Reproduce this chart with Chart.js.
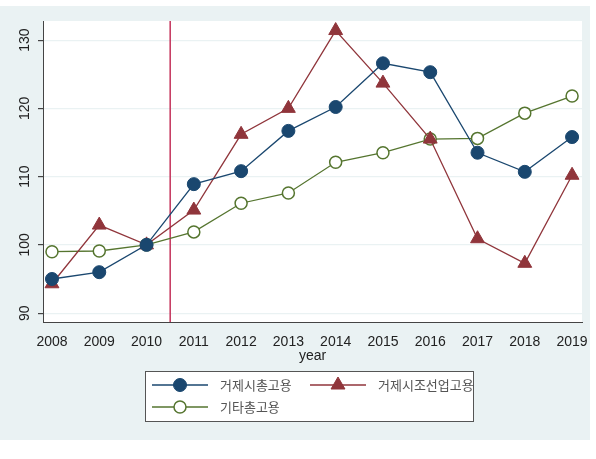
<!DOCTYPE html>
<html>
<head>
<meta charset="utf-8">
<script src="https://cdn.jsdelivr.net/npm/chart.js@4"></script>
<style>
  html, body { margin: 0; padding: 0; background: #fff; }
  #wrap { position: relative; width: 596px; height: 459px; }
  #panel { position: absolute; left: 0; top: 6px; width: 590px; height: 434px; background: #eaf2f3; }
  #c { position: absolute; left: 0; top: 0; }
</style>
</head>
<body>
<div id="wrap">
  <div id="panel"></div>
  <canvas id="c" width="596" height="459"></canvas>
</div>
<script>
// years and indexed employment (2010 = 100)
const years = [2008, 2009, 2010, 2011, 2012, 2013, 2014, 2015, 2016, 2017, 2018, 2019];
const geojeTotal    = [95.0, 96.0, 100, 108.9, 110.8, 116.7, 120.2, 126.6, 125.3, 113.5, 110.7, 115.8];
const geojeShipbld  = [94.3, 102.9, 100, 105.1, 116.2, 120.0, 131.4, 123.7, 115.5, 100.9, 97.3, 110.2];
const otherTotal    = [99.0, 99.1, 100, 101.9, 106.1, 107.6, 112.1, 113.5, 115.5, 115.6, 119.3, 121.8];
const yTicks = [90, 100, 110, 120, 130];
const markerYear = 2010.5;

const COL = {
    navy:   '#1a476f',
    maroon: '#90353b',
    olive:  '#55752f',
    vline:  '#c4325a',
    grid:   '#eaf2f3',
    axis:   '#444444',
    text:   '#222222'
};

const FONT = '"Liberation Sans", Arial, sans-serif';
const Y_MIN = 88.7, Y_MAX = 132.8;

const pts = arr => years.map((yr, i) => ({ x: yr, y: arr[i] }));

// white plot region
const plotBg = {
    id: 'plotBg',
    beforeDraw(chart) {
        const { ctx, chartArea: a } = chart;
        ctx.save();
        ctx.fillStyle = '#fff';
        ctx.fillRect(a.left, a.top, a.right - a.left, a.bottom - a.top);
        ctx.restore();
    }
};

// rotated y labels, centred on their tick (Stata style)
const yLabels = {
    id: 'yLabels',
    afterDraw(chart) {
        const { ctx } = chart;
        const s = chart.scales.y;
        ctx.save();
        ctx.fillStyle = COL.text;
        ctx.font = '14px ' + FONT;
        ctx.textAlign = 'center';
        ctx.textBaseline = 'middle';
        s.ticks.forEach(t => {
            const py = s.getPixelForValue(t.value);
            ctx.save();
            ctx.translate(25, py);
            ctx.rotate(-Math.PI / 2);
            ctx.fillText(String(t.value), 0, 0);
            ctx.restore();
        });
        ctx.restore();
    }
};

// Stata-style legend box: line with marker in the middle
const boxLegend = {
    id: 'boxLegend',
    afterDraw(chart) {
        const { ctx } = chart;
        ctx.save();
        ctx.fillStyle = '#fff';
        ctx.fillRect(145.5, 371.5, 328, 50);
        ctx.strokeStyle = '#555';
        ctx.lineWidth = 1;
        ctx.strokeRect(145.5, 371.5, 328, 50);

        const items = [
            { ds: 0, x: 152, y: 385, text: '거제시총고용' },
            { ds: 1, x: 310, y: 385, text: '거제시조선업고용' },
            { ds: 2, x: 152, y: 407, text: '기타총고용' }
        ];
        items.forEach(it => {
            const d = chart.data.datasets[it.ds];
            ctx.strokeStyle = d.borderColor;
            ctx.lineWidth = 1.3;
            ctx.beginPath();
            ctx.moveTo(it.x, it.y);
            ctx.lineTo(it.x + 56, it.y);
            ctx.stroke();
            ctx.fillStyle = d.pointBackgroundColor;
            ctx.strokeStyle = d.pointBorderColor;
            ctx.lineWidth = d.pointBorderWidth;
            ctx.beginPath();
            const cx = it.x + 28, r = d.pointRadius;
            if (d.pointStyle === 'triangle') {
                ctx.moveTo(cx, it.y - r);
                ctx.lineTo(cx + r * 0.87, it.y + r * 0.5);
                ctx.lineTo(cx - r * 0.87, it.y + r * 0.5);
                ctx.closePath();
            } else {
                ctx.arc(cx, it.y, r, 0, Math.PI * 2);
            }
            ctx.fill();
            ctx.stroke();
            ctx.fillStyle = '#555';
            ctx.font = '13px "Noto Sans CJK KR", sans-serif';
            ctx.textBaseline = 'middle';
            ctx.fillText(it.text, it.x + 68, it.y);
        });
        ctx.restore();
    }
};

new Chart(document.getElementById('c'), {
    type: 'line',
    data: {
        datasets: [
            {
                label: '거제시총고용',
                data: pts(geojeTotal),
                borderColor: COL.navy,
                backgroundColor: COL.navy,
                pointBackgroundColor: COL.navy,
                pointBorderColor: COL.navy,
                pointStyle: 'circle',
                pointRadius: 6.5,
                pointBorderWidth: 1,
                borderWidth: 1.3
            },
            {
                label: '거제시조선업고용',
                data: pts(geojeShipbld),
                borderColor: COL.maroon,
                backgroundColor: COL.maroon,
                pointBackgroundColor: COL.maroon,
                pointBorderColor: COL.maroon,
                pointStyle: 'triangle',
                pointRadius: 8,
                pointBorderWidth: 1,
                borderWidth: 1.3
            },
            {
                label: '기타총고용',
                data: pts(otherTotal),
                borderColor: COL.olive,
                backgroundColor: COL.olive,
                pointBackgroundColor: '#fff',
                pointBorderColor: COL.olive,
                pointStyle: 'circle',
                pointRadius: 6,
                pointBorderWidth: 1.5,
                borderWidth: 1.3
            },
            {
                label: 'vline',
                data: [{ x: markerYear, y: Y_MIN }, { x: markerYear, y: Y_MAX }],
                borderColor: COL.vline,
                borderWidth: 1.5,
                pointRadius: 0,
                order: 10
            }
        ]
    },
    options: {
        responsive: false,
        animation: false,
        events: [],
        layout: { padding: { left: 0, right: 14, top: 21, bottom: 94 } },
        plugins: {
            legend: { display: false },
            tooltip: { enabled: false }
        },
        scales: {
            x: {
                type: 'linear',
                min: 2007.81,
                max: 2019.21,
                afterBuildTicks: s => { s.ticks = years.map(v => ({ value: v })); },
                afterFit: s => { s.height = 43; },
                grid: { display: false, drawTicks: true, tickLength: 5, tickColor: COL.axis },
                border: { color: COL.axis, width: 1 },
                ticks: {
                    color: COL.text,
                    font: { family: FONT, size: 14 },
                    padding: 7,
                    maxRotation: 0,
                    callback: v => String(v)
                },
                title: {
                    display: true,
                    text: 'year',
                    color: COL.text,
                    font: { family: FONT, size: 14 },
                    padding: { top: 0, bottom: 0 }
                }
            },
            y: {
                min: Y_MIN,
                max: Y_MAX,
                afterBuildTicks: s => { s.ticks = yTicks.map(v => ({ value: v })); },
                afterFit: s => { s.width = 43; },
                grid: { color: COL.grid, lineWidth: 1.2, drawTicks: true, tickLength: 5, tickColor: COL.axis },
                border: { color: COL.axis, width: 1 },
                ticks: { display: false }
            }
        }
    },
    plugins: [plotBg, yLabels, boxLegend]
});
</script>
</body>
</html>
